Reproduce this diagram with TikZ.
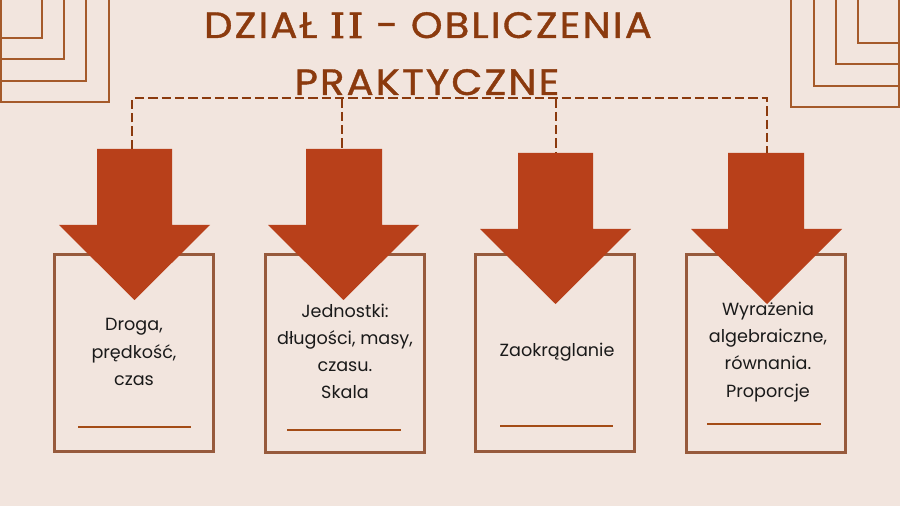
\documentclass[tikz,border=0pt]{standalone}
\usepackage{fontspec}
\setmainfont{Poppins}
\newfontfamily\titlefont[FakeBold=1.0,LetterSpace=5]{Poppins}
\newfontfamily\romfont[LetterSpace=8,FakeBold=2.5]{DejaVu Serif}
\definecolor{bgc}{HTML}{F2E5DE}
\definecolor{arrowc}{HTML}{B8401A}
\definecolor{boxc}{HTML}{975A3C}
\definecolor{ulc}{HTML}{A44C16}
\definecolor{decoc}{HTML}{A55A2A}
\definecolor{titlec}{HTML}{8B3A0E}
\definecolor{txtc}{HTML}{1A1A1A}
\tikzset{
  bigarrow/.style={fill=arrowc,draw=none},
  boxnode/.style={draw=boxc,line width=2.25pt,minimum width=119.8pt,minimum height=147.8pt,inner sep=0pt},
  txt/.style={font=\fontsize{13.2pt}{20.3pt}\selectfont,text=txtc,align=center,inner sep=0pt},
  uline/.style={draw=ulc,line width=1.5pt},
  deco/.style={draw=decoc,line width=1.5pt},
  busline/.style={draw=titlec,line width=1.5pt,dash pattern=on 7pt off 3pt},
  titletxt/.style={font=\titlefont\fontsize{27.5pt}{42.7pt}\selectfont,text=titlec,align=center,inner sep=0pt}
}
\begin{document}
\begin{tikzpicture}[x=0.75pt,y=-0.75pt]
\fill[bgc] (0,0) rectangle (900,506);
\useasboundingbox (0,0) rectangle (900,506);
\begin{scope}
\clip (0,0) rectangle (900,506);
% corner decorations top-left
\draw[deco] (1,-5) -- (1,102) -- (109,102) -- (109,-5);
\draw[deco] (1,81) -- (86,81) -- (86,-5);
\draw[deco] (1,59) -- (64,59) -- (64,-5);
\draw[deco] (1,38) -- (42,38) -- (42,-5);
% corner decorations top-right
\draw[deco] (899,-5) -- (899,107) -- (791,107) -- (791,-5);
\draw[deco] (899,86) -- (814,86) -- (814,-5);
\draw[deco] (899,64) -- (836,64) -- (836,-5);
\draw[deco] (899,43) -- (858,43) -- (858,-5);
\end{scope}
% title
\node[titletxt,anchor=base] (title1) at (428,38) {\scalebox{1.1}[1]{DZIAŁ {\romfont\fontsize{26pt}{30pt}\selectfont II} - OBLICZENIA}};
\node[titletxt,anchor=base] (title2) at (427,95) {\scalebox{1.1}[1]{PRAKTYCZNE}};
% boxes
\node[boxnode] (b1) at (134,353) {};
\node[boxnode] (b2) at (345,353.5) {};
\node[boxnode] (b3) at (555,353) {};
\node[boxnode] (b4) at (766,353.5) {};
% underlines
\draw[uline] (78,427) -- (191,427);
\draw[uline] (287,430) -- (401,430);
\draw[uline] (500,426) -- (613,426);
\draw[uline] (707,424) -- (821,424);
% arrows
\fill[bigarrow] (97,149) -- (172,149) -- (172,225) -- (210,225) -- (134.5,300) -- (59,225) -- (97,225) -- cycle;
\fill[bigarrow] (306,149) -- (382,149) -- (382,225) -- (419,225) -- (343.5,300) -- (268,225) -- (306,225) -- cycle;
\fill[bigarrow] (518,153) -- (593,153) -- (593,229) -- (631,229) -- (555.5,304) -- (480,229) -- (518,229) -- cycle;
\fill[bigarrow] (728,153) -- (804,153) -- (804,229) -- (842,229) -- (767,304) -- (691,229) -- (728,229) -- cycle;
\coordinate (t1) at (132,149);
\coordinate (t2) at (342,149);
\coordinate (t3) at (556,153);
\coordinate (t4) at (767,153);
\coordinate (bus) at (0,98.5);
% bus connector
\draw[busline] (t1) -- (t1 |- bus) -- (t4 |- bus) -- (t4);
\draw[busline] (t2 |- bus) -- (t2);
\draw[busline] (t3 |- bus) -- (t3);
% texts
\node[txt] (x1) at (134,352) {Droga,\\prędkość,\\czas};
\node[txt] (x2) at (345,351) {Jednostki:\\długości, masy,\\czasu.\\Skala};
\node[txt] (x3) at (557,352) {Zaokrąglanie};
\node[txt] (x4) at (768,352) {Wyrażenia\\algebraiczne,\\równania.\\Proporcje};
\end{tikzpicture}
\end{document}
